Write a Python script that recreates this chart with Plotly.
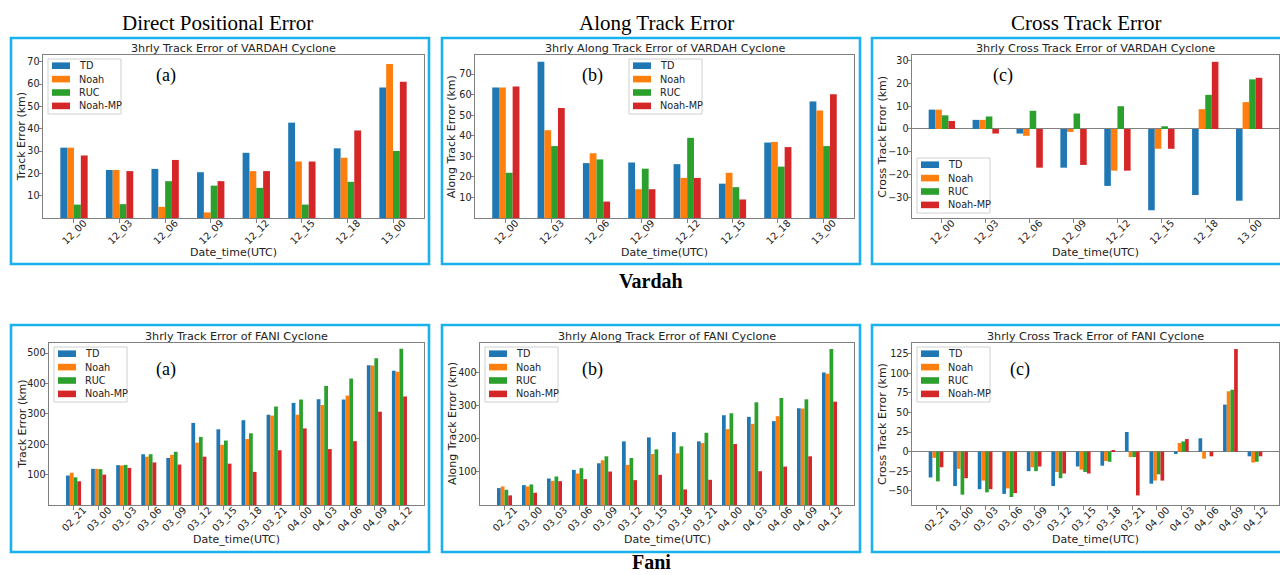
import plotly.graph_objects as go

# ---------------- data ----------------
series_names = ["TD", "Noah", "RUC", "Noah-MP"]
series_colors = ["#1f77b4", "#ff7f0e", "#2ca02c", "#d62728"]

vardah_times = ["12_00", "12_03", "12_06", "12_09", "12_12", "12_15", "12_18", "13_00"]
fani_times = ["02_21", "03_00", "03_03", "03_06", "03_09", "03_12", "03_15",
              "03_18", "03_21", "04_00", "04_03", "04_06", "04_09", "04_12"]

# Vardah: direct positional error (km)
vardah_dpe_td = [31.5, 21.5, 22.0, 20.5, 29.2, 42.7, 31.2, 58.5]
vardah_dpe_noah = [31.5, 21.5, 5.0, 2.5, 21.0, 25.3, 27.0, 69.0]
vardah_dpe_ruc = [6.0, 6.2, 16.5, 14.5, 13.5, 6.0, 16.2, 30.0]
vardah_dpe_noahmp = [28.0, 21.0, 26.0, 16.5, 21.0, 25.3, 39.2, 61.0]

# Vardah: along track error (km)
vardah_ate_td = [63.5, 76.0, 26.7, 27.0, 26.2, 16.7, 36.7, 56.7]
vardah_ate_noah = [63.5, 42.7, 31.5, 14.0, 19.5, 22.0, 37.0, 52.3]
vardah_ate_ruc = [22.0, 35.0, 28.5, 24.0, 39.0, 15.0, 25.0, 35.0]
vardah_ate_noahmp = [64.0, 53.5, 8.0, 14.0, 19.5, 9.0, 34.5, 60.2]

# Vardah: cross track error (km)
vardah_cte_td = [8.5, 4.0, -2.0, -17.0, -25.0, -35.7, -29.0, -31.5]
vardah_cte_noah = [8.5, 4.0, -3.0, -1.3, -18.3, -8.7, 8.7, 11.8]
vardah_cte_ruc = [6.0, 5.5, 8.0, 6.8, 10.0, 1.2, 15.0, 21.8]
vardah_cte_noahmp = [3.5, -2.0, -17.0, -15.8, -18.3, -8.7, 29.5, 22.5]

# Fani: direct positional error (km)
fani_dpe_td = [97, 119, 131, 167, 155, 270, 249, 279, 297, 336, 348, 347, 460, 442]
fani_dpe_noah = [106, 119, 130, 159, 165, 205, 198, 217, 294, 297, 329, 360, 459, 438]
fani_dpe_ruc = [91, 118, 132, 167, 175, 224, 212, 236, 324, 347, 392, 416, 483, 514]
fani_dpe_noahmp = [78, 100, 122, 140, 133, 159, 136, 109, 180, 252, 184, 210, 307, 357]

# Fani: along track error (km)
fani_ate_td = [51, 60, 80, 106, 126, 192, 204, 220, 192, 271, 266, 253, 292, 400]
fani_ate_noah = [56, 56, 73, 95, 135, 121, 154, 156, 187, 229, 245, 268, 291, 396]
fani_ate_ruc = [46, 62, 86, 111, 147, 142, 168, 177, 218, 277, 310, 323, 319, 471]
fani_ate_noahmp = [29, 37, 72, 78, 101, 75, 91, 47, 76, 184, 102, 116, 147, 312]

# Fani: cross track error (km)
fani_cte_td = [-33, -44, -48, -54, -25, -44, -19, -18, 25, -41, -3, 17, 60, -6]
fani_cte_noah = [-8, -22, -37, -47, -20, -26, -23, -12, -7, -37, 11, -9, 77, -14]
fani_cte_ruc = [-38, -55, -52, -58, -25, -34, -26, -13, -7, -29, 13, 0, 79, -13]
fani_cte_noahmp = [-20, -34, -48, -53, -19, -28, -28, 2, -56, -37, 16, -6, 131, -6]

W, H = 1280, 575
FONT = "DejaVu Sans"
SERIF = "Liberation Serif"
AXIS_GREY = "#808080"
TEXT = "#222"
FRAME_BLUE = "#1AB2EE"


def fx(px):
    return px / W


def fy(py):
    return 1 - py / H


panels = [
    dict(cats=vardah_times,
         vals=[vardah_dpe_td, vardah_dpe_noah, vardah_dpe_ruc, vardah_dpe_noahmp],
         title="3hrly Track Error of VARDAH Cyclone", ytitle="Track Error (km)",
         yrange=[0, 73], ticks=[10, 20, 30, 40, 50, 60, 70],
         xpix=(43, 424), ypix=(55, 218), ytitle_x=21.7, tag="(a)", tag_pos=(166, 75),
         legend_pos=(48, 59), frame=(11, 38, 429, 264)),
    dict(cats=vardah_times,
         vals=[vardah_ate_td, vardah_ate_noah, vardah_ate_ruc, vardah_ate_noahmp],
         title="3hrly Along Track Error of VARDAH Cyclone", ytitle="Along Track Error (km)",
         yrange=[0, 79.3], ticks=[10, 20, 30, 40, 50, 60, 70],
         xpix=(475, 854), ypix=(55, 218), ytitle_x=451.7, tag="(b)", tag_pos=(592, 75),
         legend_pos=(629, 59), frame=(442, 38, 860, 264)),
    dict(cats=vardah_times,
         vals=[vardah_cte_td, vardah_cte_noah, vardah_cte_ruc, vardah_cte_noahmp],
         title="3hrly Cross Track Error of VARDAH Cyclone", ytitle="Cross Track Error (km)",
         yrange=[-39.1, 32.5], ticks=[-30, -20, -10, 0, 10, 20, 30],
         xpix=(912, 1279), ypix=(55, 218), ytitle_x=882.3, tag="(c)", tag_pos=(1003, 75),
         legend_pos=(917, 158), frame=(872, 38, 1290, 264)),
    dict(cats=fani_times,
         vals=[fani_dpe_td, fani_dpe_noah, fani_dpe_ruc, fani_dpe_noahmp],
         title="3hrly Track Error of FANI Cyclone", ytitle="Track Error (km)",
         yrange=[0, 533], ticks=[100, 200, 300, 400, 500],
         xpix=(49, 424), ypix=(343, 505), ytitle_x=21.7, tag="(a)", tag_pos=(166, 370),
         legend_pos=(54, 347), frame=(11, 325, 429, 552)),
    dict(cats=fani_times,
         vals=[fani_ate_td, fani_ate_noah, fani_ate_ruc, fani_ate_noahmp],
         title="3hrly Along Track Error of FANI Cyclone", ytitle="Along Track Error (km)",
         yrange=[0, 489], ticks=[100, 200, 300, 400],
         xpix=(480, 854), ypix=(343, 505), ytitle_x=452, tag="(b)", tag_pos=(592, 370),
         legend_pos=(485, 347), frame=(442, 325, 860, 552)),
    dict(cats=fani_times,
         vals=[fani_cte_td, fani_cte_noah, fani_cte_ruc, fani_cte_noahmp],
         title="3hrly Cross Track Error of FANI Cyclone", ytitle="Cross Track Error (km)",
         yrange=[-68.2, 138.7], ticks=[-50, -25, 0, 25, 50, 75, 100, 125],
         xpix=(912, 1279), ypix=(343, 505), ytitle_x=882, tag="(c)", tag_pos=(1020, 370),
         legend_pos=(917, 347), frame=(872, 325, 1290, 552)),
]

fig = go.Figure()
annotations = []
shapes = []
layout_axes = {}

for i, p in enumerate(panels, start=1):
    xa = "x" if i == 1 else f"x{i}"
    ya = "y" if i == 1 else f"y{i}"
    xkey = "xaxis" if i == 1 else f"xaxis{i}"
    ykey = "yaxis" if i == 1 else f"yaxis{i}"
    n = len(p["cats"])
    pad = 0.05 * (n - 1 + 0.6)

    for name, color, vals in zip(series_names, series_colors, p["vals"]):
        fig.add_trace(go.Bar(x=p["cats"], y=vals, name=name, marker_color=color,
                             marker_line_width=0, showlegend=False,
                             xaxis=xa, yaxis=ya))

    x0, x1 = p["xpix"]
    y0, y1 = p["ypix"]
    is_cross = p["yrange"][0] < 0
    layout_axes[xkey] = dict(
        domain=[fx(x0), fx(x1)], anchor=ya, type="category",
        range=[-0.3 - pad, n - 1 + 0.3 + pad],
        showline=True, linecolor=AXIS_GREY, linewidth=1, mirror=True,
        ticks="outside", ticklen=3.5, tickcolor=AXIS_GREY, tickwidth=1,
        tickangle=-45, ticklabelshift=10, ticklabelstandoff=-9,
        tickfont=dict(family=FONT, size=9.8, color=TEXT),
        showgrid=False, zeroline=False, fixedrange=True,
    )
    layout_axes[ykey] = dict(
        domain=[fy(y1), fy(y0)], anchor=xa, range=p["yrange"],
        tickvals=p["ticks"],
        showline=True, linecolor=AXIS_GREY, linewidth=1, mirror=True,
        ticks="outside", ticklen=3.5, tickcolor=AXIS_GREY, tickwidth=1,
        ticklabelstandoff=-3,
        tickfont=dict(family=FONT, size=9.6, color=TEXT),
        showgrid=False, zeroline=is_cross, zerolinecolor=AXIS_GREY, zerolinewidth=1,
        fixedrange=True,
    )

    cx = (x0 + x1) / 2
    # panel title
    annotations.append(dict(text=p["title"], x=fx(cx), y=fy(y0 - 7), xref="paper", yref="paper",
                            xanchor="center", yanchor="middle", showarrow=False,
                            font=dict(family=FONT, size=11.2, color=TEXT)))
    # axis titles
    annotations.append(dict(text="Date_time(UTC)", x=fx(cx), y=fy(y1 + 34),
                            xref="paper", yref="paper", xanchor="center", yanchor="middle",
                            showarrow=False, font=dict(family=FONT, size=11, color=TEXT)))
    annotations.append(dict(text=p["ytitle"], x=fx(p["ytitle_x"]), y=fy((y0 + y1) / 2),
                            xref="paper", yref="paper", xanchor="center", yanchor="middle",
                            textangle=-90, showarrow=False,
                            font=dict(family=FONT, size=11, color=TEXT)))
    # panel tag
    annotations.append(dict(text=p["tag"], x=fx(p["tag_pos"][0]), y=fy(p["tag_pos"][1]),
                            xref="paper", yref="paper", xanchor="center", yanchor="middle",
                            showarrow=False, font=dict(family=SERIF, size=18, color="black")))

    # legend box with swatches
    lx, ly = p["legend_pos"]
    shapes.append(dict(type="rect", xref="paper", yref="paper",
                       x0=fx(lx), x1=fx(lx + 73), y0=fy(ly + 55), y1=fy(ly),
                       line=dict(color="#d0d0d0", width=1), fillcolor="rgba(255,255,255,0.85)",
                       layer="above"))
    for k, (name, color) in enumerate(zip(series_names, series_colors)):
        rowc = ly + 6.7 + 13.4 * k
        shapes.append(dict(type="rect", xref="paper", yref="paper",
                           x0=fx(lx + 4), x1=fx(lx + 22), y0=fy(rowc + 3.3), y1=fy(rowc - 3.3),
                           line=dict(width=0), fillcolor=color, layer="above"))
        annotations.append(dict(text=name, x=fx(lx + 28.5), y=fy(rowc), xref="paper", yref="paper",
                                xanchor="left", yanchor="middle", showarrow=False,
                                font=dict(family=FONT, size=9.7, color=TEXT)))

    # blue frame around panel
    fx0, fy0, fx1, fy1 = p["frame"]
    shapes.append(dict(type="rect", xref="paper", yref="paper",
                       x0=fx(fx0), x1=fx(fx1), y0=fy(fy1), y1=fy(fy0),
                       line=dict(color=FRAME_BLUE, width=2.6), fillcolor="rgba(0,0,0,0)"))

# section headers
for text, cx in [("Direct Positional Error", 217), ("Along Track Error", 656),
                 ("Cross Track Error", 1086)]:
    annotations.append(dict(text=text, x=fx(cx), y=fy(23), xref="paper", yref="paper",
                            xanchor="center", yanchor="middle", showarrow=False,
                            font=dict(family=SERIF, size=21, color="black")))
annotations.append(dict(text="<b>Vardah</b>", x=fx(651), y=fy(281), xref="paper", yref="paper",
                        xanchor="center", yanchor="middle", showarrow=False,
                        font=dict(family=SERIF, size=20, color="black")))
annotations.append(dict(text="<b>Fani</b>", x=fx(651), y=0, xref="paper", yref="paper",
                        xanchor="center", yanchor="bottom", showarrow=False,
                        font=dict(family=SERIF, size=20, color="black")))

fig.update_layout(
    width=W, height=H, margin=dict(l=0, r=0, t=0, b=0),
    paper_bgcolor="white", plot_bgcolor="white",
    barmode="group", bargap=0.4, bargroupgap=0,
    annotations=annotations, shapes=shapes, showlegend=False,
    **layout_axes,
)

fig.write_html("out.html")
